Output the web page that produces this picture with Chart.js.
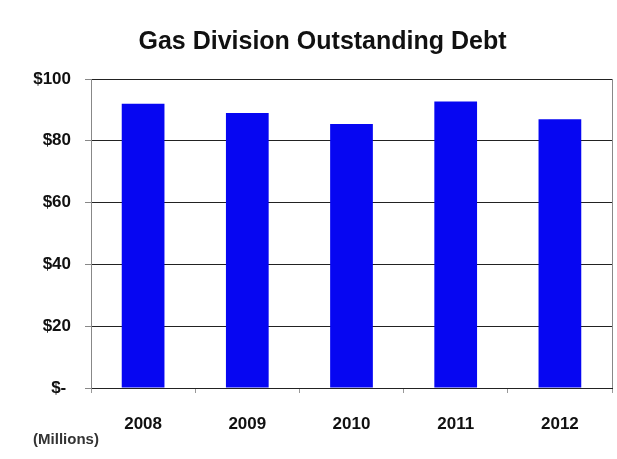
<!DOCTYPE html>
<html>
<head>
<meta charset="utf-8">
<script src="https://cdn.jsdelivr.net/npm/chart.js@4"></script>
<style>
  html, body { margin: 0; padding: 0; background: #fff; }
  #wrap { width: 617px; height: 459px; }
</style>
</head>
<body>
<div id="wrap"><canvas id="debtChart"></canvas></div>
<script>
 "use strict";

// outstanding debt by year, $ millions
var years = ["2008", "2009", "2010", "2011", "2012"];
var debt = [92, 89, 85.4, 92.7, 87];
var yTicks = [0, 20, 40, 60, 80, 100];
var unitNote = "(Millions)";

var FONT = "Arial, 'Liberation Sans', sans-serif";

// right edge of the plot box and the units note under the y axis
var frame = {
	id: 'frame',
	afterDraw: function (chart) {
		var c = chart.ctx, a = chart.chartArea;
		c.save();
		c.strokeStyle = '#888';
		c.lineWidth = 1;
		c.beginPath();
		c.moveTo(Math.round(a.right) + 0.5, a.top);
		c.lineTo(Math.round(a.right) + 0.5, a.bottom);
		c.stroke();
		c.fillStyle = '#333';
		c.font = 'bold 15px ' + FONT;
		c.textAlign = 'center';
		c.textBaseline = 'middle';
		c.fillText(unitNote, 66, 440);
		c.restore();
	}
};

var ctx1 = document.getElementById("debtChart");
var chart1 = new Chart(ctx1, {
	type: 'bar',
	data: {
		labels: years,
		datasets: [{
			label: 'Outstanding Debt',
			backgroundColor: '#0606f2',
			borderWidth: 0,
			barPercentage: 0.41,
			categoryPercentage: 1,
			data: debt
		}]
	},
	options: {
		responsive: true,
		maintainAspectRatio: false,
		animation: false,
		layout: { padding: { left: 33, right: 5, top: 0, bottom: 0 } },
		plugins: {
			legend: { display: false },
			tooltip: { enabled: false },
			title: {
				display: true,
				text: 'Gas Division Outstanding Debt',
				color: '#111',
				font: { family: FONT, size: 25, weight: 'bold' },
				padding: { top: 27, bottom: 22 }
			}
		},
		scales: {
			x: {
				offset: true,
				grid: { offset: true, drawOnChartArea: false, tickLength: 5, color: '#999' },
				border: { color: '#222' },
				ticks: { color: '#111', padding: 21, font: { family: FONT, size: 17, weight: 'bold' } },
				afterFit: function (s) { s.height = 71; }
			},
			y: {
				min: 0,
				max: 100,
				afterBuildTicks: function (s) { s.ticks = yTicks.map(function (v) { return { value: v }; }); },
				grid: { color: '#222', tickColor: '#888', tickLength: 6 },
				border: { color: '#888' },
				ticks: {
					color: '#111',
					padding: 14,
					font: { family: FONT, size: 17, weight: 'bold' },
					callback: function (v) { return v === 0 ? '$- ' : '$' + v; }
				},
				afterFit: function (s) { s.width = 58; }
			}
		}
	},
	plugins: [frame]
});
</script>
</body>
</html>
